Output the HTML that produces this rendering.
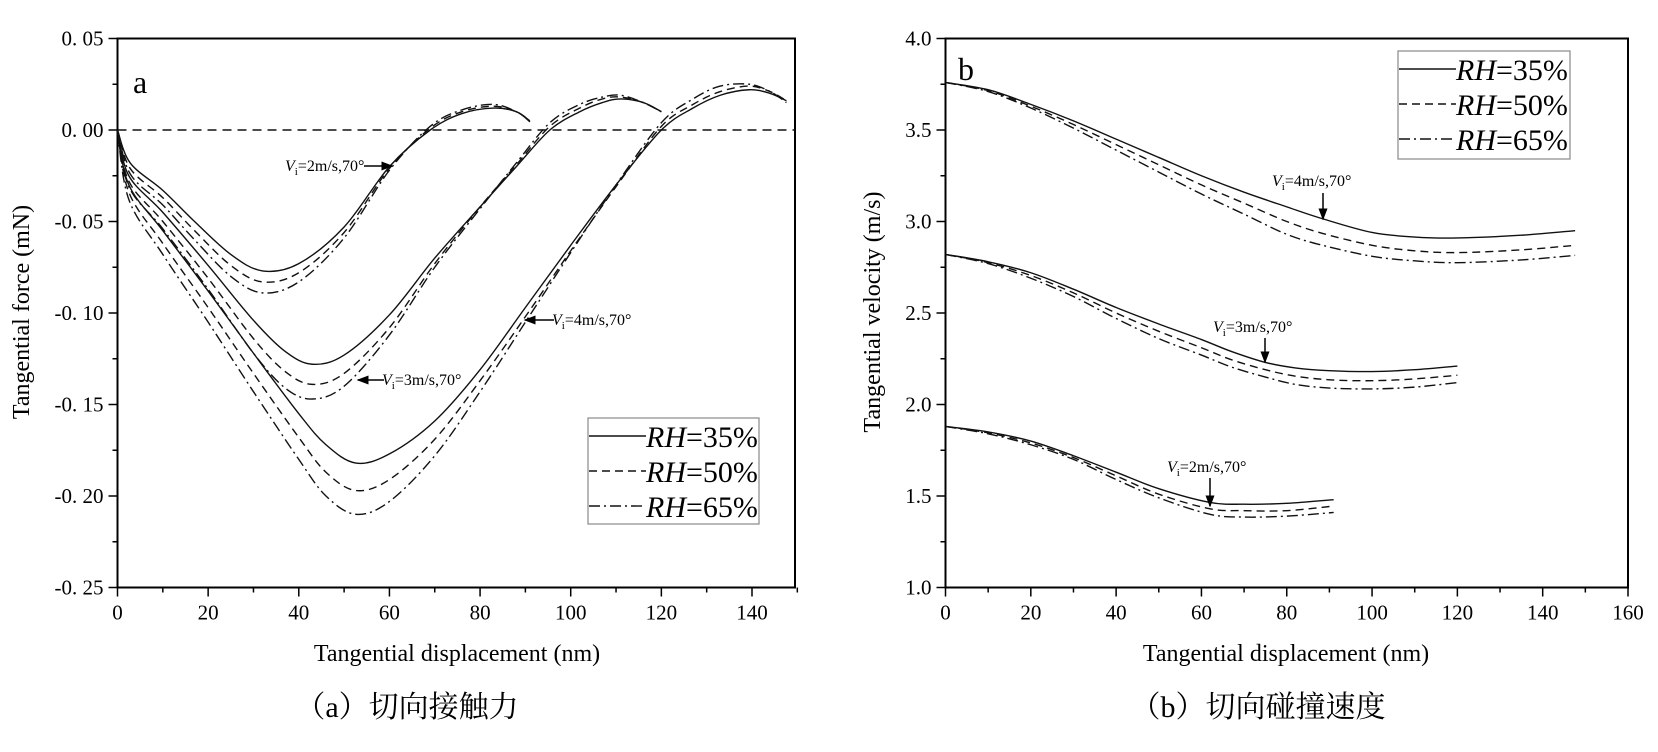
<!DOCTYPE html>
<html><head><meta charset="utf-8">
<style>
html,body{margin:0;padding:0;background:#fff;width:1658px;height:752px;overflow:hidden;}
svg{display:block;font-family:"Liberation Serif","Noto Serif CJK SC",serif;}
</style></head>
<body>
<svg id="fig" width="1658" height="752" viewBox="0 0 1658 752" xmlns="http://www.w3.org/2000/svg">
<defs>
<marker id="ah" markerWidth="8" markerHeight="8" refX="7" refY="4" orient="auto"><path d="M0,1 L8,4 L0,7 z" fill="#000"/></marker>
</defs>
<g id="chartA"></g>
<g id="chartB"></g>
</svg>
<script>
// ---------- Chart A data ----------
const aV2x = [0,2.8,10,17,25,32,40,50,60,69,76,83,88,91];
const aV2rh35 = [0,-0.018,-0.033,-0.050,-0.068,-0.077,-0.073,-0.053,-0.020,0,0.009,0.012,0.010,0.0045];
const aV2rh50 = [0,-0.021,-0.037,-0.055,-0.074,-0.083,-0.078,-0.056,-0.021,0.001,0.010,0.013,0.010,0.005];
const aV2rh65 = [0,-0.024,-0.041,-0.060,-0.080,-0.089,-0.083,-0.059,-0.022,0.002,0.011,0.014,0.010,0.005];
const aV3x = [0,2.5,10,20,30,37,43,50,60,70,80,88,95.4,102,107,111,116,120];
const aV3rh35 = [0,-0.025,-0.045,-0.074,-0.104,-0.121,-0.128,-0.123,-0.101,-0.070,-0.042,-0.020,0,0.010,0.015,0.017,0.015,0.010];
const aV3rh50 = [0,-0.028,-0.050,-0.081,-0.114,-0.132,-0.139,-0.133,-0.108,-0.073,-0.042,-0.019,0.002,0.012,0.017,0.018,0.015,0.010];
const aV3rh65 = [0,-0.031,-0.054,-0.087,-0.122,-0.141,-0.147,-0.140,-0.112,-0.075,-0.043,-0.018,0.004,0.014,0.018,0.019,0.015,0.010];
const aV4x = [0,2.5,10,20,30,40,46,52.6,60,70,80,90,100,110,120,127,133,139.4,144,147.6];
const aV4rh35 = [0,-0.030,-0.055,-0.088,-0.122,-0.155,-0.172,-0.182,-0.177,-0.159,-0.131,-0.097,-0.063,-0.030,0,0.012,0.019,0.022,0.020,0.016];
const aV4rh50 = [0,-0.034,-0.062,-0.097,-0.133,-0.168,-0.187,-0.197,-0.191,-0.169,-0.137,-0.102,-0.066,-0.031,0.002,0.014,0.021,0.024,0.021,0.016];
const aV4rh65 = [0,-0.038,-0.068,-0.105,-0.143,-0.180,-0.200,-0.210,-0.203,-0.178,-0.143,-0.105,-0.067,-0.030,0.004,0.017,0.024,0.025,0.021,0.015];
const aXTicks = [0,20,40,60,80,100,120,140];
const aYTicks = [0.05,0,-0.05,-0.10,-0.15,-0.20,-0.25];
const aYLabels = ["0. 05","0. 00","-0. 05","-0. 10","-0. 15","-0. 20","-0. 25"];
// ---------- Chart B data ----------
const bV4x = [0,10,20,30,40,50,60,70,80,88.4,100,110,120,135,147.6];
const bV4rh35 = [3.76,3.72,3.64,3.55,3.45,3.35,3.25,3.16,3.08,3.015,2.94,2.915,2.91,2.925,2.95];
const bV4rh50 = [3.76,3.715,3.63,3.53,3.42,3.31,3.20,3.10,3.00,2.935,2.87,2.84,2.83,2.845,2.87];
const bV4rh65 = [3.76,3.71,3.62,3.51,3.39,3.27,3.15,3.04,2.93,2.87,2.81,2.785,2.775,2.79,2.815];
const bV3x = [0,10,20,30,40,50,60,67,75,82,90,100,110,120];
const bV3rh35 = [2.82,2.78,2.72,2.63,2.53,2.44,2.355,2.29,2.23,2.20,2.185,2.18,2.19,2.21];
const bV3rh50 = [2.82,2.775,2.705,2.61,2.50,2.40,2.31,2.245,2.19,2.155,2.135,2.13,2.14,2.16];
const bV3rh65 = [2.82,2.77,2.69,2.59,2.47,2.36,2.27,2.205,2.15,2.11,2.09,2.085,2.095,2.12];
const bV2x = [0,10,20,30,40,50,62,70,80,91];
const bV2rh35 = [1.88,1.85,1.80,1.72,1.63,1.54,1.465,1.455,1.46,1.48];
const bV2rh50 = [1.88,1.845,1.79,1.71,1.61,1.51,1.43,1.42,1.42,1.445];
const bV2rh65 = [1.88,1.84,1.78,1.70,1.59,1.49,1.40,1.385,1.39,1.41];
const bXTicks = [0,20,40,60,80,100,120,140,160];
const bYTicks = [4.0,3.5,3.0,2.5,2.0,1.5,1.0];
const bYLabels = ["4.0","3.5","3.0","2.5","2.0","1.5","1.0"];

const NS = "http://www.w3.org/2000/svg";
function mk(parent, tag, attrs, text){
  const e = document.createElementNS(NS, tag);
  for (const k in attrs) e.setAttribute(k, attrs[k]);
  if (text !== undefined) e.textContent = text;
  parent.appendChild(e);
  return e;
}
function smooth(pts){
  let d = "M" + pts[0][0].toFixed(2) + "," + pts[0][1].toFixed(2);
  for (let i = 0; i < pts.length - 1; i++){
    const p0 = pts[Math.max(0,i-1)], p1 = pts[i], p2 = pts[i+1], p3 = pts[Math.min(pts.length-1,i+2)];
    const c1x = p1[0] + (p2[0]-p0[0])/6, c1y = p1[1] + (p2[1]-p0[1])/6;
    const c2x = p2[0] - (p3[0]-p1[0])/6, c2y = p2[1] - (p3[1]-p1[1])/6;
    d += " C" + c1x.toFixed(2) + "," + c1y.toFixed(2) + " " + c2x.toFixed(2) + "," + c2y.toFixed(2) + " " + p2[0].toFixed(2) + "," + p2[1].toFixed(2);
  }
  return d;
}
const DASH = {rh35: "", rh50: "8,5", rh65: "11,4,2,4"};

function buildAxes(g, L, T, R, B, xScale, yScale, xTicks, xMinorStep, xMax, yTicks, yLabels, yMinor, tag){
  const frame = mk(g, "rect", {x:L, y:T, width:R-L, height:B-T, fill:"none", stroke:"#000", "stroke-width":2});
  
  
  for (let v = 0; v <= xMax + 0.001; v += xMinorStep){
    const x = xScale(v);
    const major = xTicks.indexOf(v) >= 0;
    const t = mk(g, "line", {x1:x, y1:B, x2:x, y2:B + (major ? 9 : 5), stroke:"#000", "stroke-width":1.5});
    
    
  }
  xTicks.forEach(v => {
    const t = mk(g, "text", {x:xScale(v), y:B+32, "text-anchor":"middle", "font-size":21}, String(v));
    
    
  });
  yMinor.forEach(v => {
    const y = yScale(v);
    if (y < T || y > B) return;
    const t = mk(g, "line", {x1:L-5, y1:y, x2:L, y2:y, stroke:"#000", "stroke-width":1.5});
    
    
  });
  yTicks.forEach((v,i) => {
    const y = yScale(v);
    const t = mk(g, "line", {x1:L-9, y1:y, x2:L, y2:y, stroke:"#000", "stroke-width":1.5});
    
    
    const l = mk(g, "text", {x:L-14, y:y+7, "text-anchor":"end", "font-size":21}, yLabels[i]);
    
    
  });
}
function drawSeries(g, xs, ys, xScale, yScale, style, name){
  const pts = xs.map((x,i) => [xScale(x), yScale(ys[i])]);
  const p = mk(g, "path", {d:smooth(pts), fill:"none", stroke:"#111", "stroke-width":1.4});
  if (DASH[style]) p.setAttribute("stroke-dasharray", DASH[style]);
  
  
}
function legend(g, x, y, w, h, tag){
  const box = mk(g, "rect", {x:x, y:y, width:w, height:h, fill:"#fff", stroke:"#888", "stroke-width":1.2});
  
  
  const items = [["rh35","35%"],["rh50","50%"],["rh65","65%"]];
  items.forEach((it,i) => {
    const cy = y + 18 + i*35;
    const ln = mk(g, "line", {x1:x+1, y1:cy, x2:x+58, y2:cy, stroke:"#111", "stroke-width":1.4});
    if (DASH[it[0]]) ln.setAttribute("stroke-dasharray", DASH[it[0]]);
    
    
    const t = mk(g, "text", {x:x+58, y:cy+11, "font-size":30});
    
    
    mk(t, "tspan", {"font-style":"italic"}, "RH");
    mk(t, "tspan", {}, "=" + it[1]);
  });
}
function annot(g, x, y, label, name){
  const t = mk(g, "text", {x:x, y:y, "font-size":16});
  
  
  mk(t, "tspan", {"font-style":"italic"}, "V");
  mk(t, "tspan", {"font-size":11, dy:4}, "i");
  mk(t, "tspan", {dy:-4}, label);
}
function arrow(g, x1, y1, x2, y2, name){
  const a = mk(g, "line", {x1:x1, y1:y1, x2:x2, y2:y2, stroke:"#000", "stroke-width":1.5, "marker-end":"url(#ah)"});
  
  
}

// ---------- Chart A ----------
(function(){
  const g = document.getElementById("chartA");
  const L = 117.5, T = 38.5, R = 795, B = 587.5;
  const xA = v => L + v * (752 - L) / 140;
  const yA = v => T + (0.05 - v) * (B - T) / 0.30;
  const minor = [];
  for (let k = 0; k < 6; k++) minor.push(0.025 - k*0.05);
  buildAxes(g, L, T, R, B, xA, yA, aXTicks, 10, 150, aYTicks, aYLabels, minor, "a");
  const z = mk(g, "line", {x1:L, y1:yA(0), x2:R, y2:yA(0), stroke:"#111", "stroke-width":1.4, "stroke-dasharray":"9,6"});
  
  
  drawSeries(g, aV2x, aV2rh35, xA, yA, "rh35", "a-v2-rh35-line");
  drawSeries(g, aV2x, aV2rh50, xA, yA, "rh50", "a-v2-rh50-line");
  drawSeries(g, aV2x, aV2rh65, xA, yA, "rh65", "a-v2-rh65-line");
  drawSeries(g, aV3x, aV3rh35, xA, yA, "rh35", "a-v3-rh35-line");
  drawSeries(g, aV3x, aV3rh50, xA, yA, "rh50", "a-v3-rh50-line");
  drawSeries(g, aV3x, aV3rh65, xA, yA, "rh65", "a-v3-rh65-line");
  drawSeries(g, aV4x, aV4rh35, xA, yA, "rh35", "a-v4-rh35-line");
  drawSeries(g, aV4x, aV4rh50, xA, yA, "rh50", "a-v4-rh50-line");
  drawSeries(g, aV4x, aV4rh65, xA, yA, "rh65", "a-v4-rh65-line");
  annot(g, 285, 171, "=2m/s,70°", "a-v2-annotation");
  arrow(g, 364, 166, 392, 166, "a-v2-arrow");
  annot(g, 382, 385, "=3m/s,70°", "a-v3-annotation");
  arrow(g, 384, 380, 358, 380, "a-v3-arrow");
  annot(g, 552, 325, "=4m/s,70°", "a-v4-annotation");
  arrow(g, 554, 320, 525, 320, "a-v4-arrow");
  legend(g, 588, 418, 171, 106, "a");
  const lab = mk(g, "text", {x:133, y:93, "font-size":32}, "a");
  
  
  const yt = mk(g, "text", {x:0, y:0, "font-size":24, "text-anchor":"middle", transform:"translate(29,312) rotate(-90)"}, "Tangential force (mN)");
  
  
  const xt = mk(g, "text", {x:457, y:661, "font-size":24, "text-anchor":"middle"}, "Tangential displacement (nm)");
  
  
  const cap = mk(g, "text", {x:407, y:717, "font-size":30, "text-anchor":"middle"}, "（a）切向接触力");
  
  
})();

// ---------- Chart B ----------
(function(){
  const g = document.getElementById("chartB");
  const L = 945.5, T = 38.5, R = 1628, B = 587.5;
  const xB = v => L + v * (R - L) / 160;
  const yB = v => T + (4.0 - v) * (B - T) / 3.0;
  const minor = [];
  for (let k = 0; k < 6; k++) minor.push(3.75 - k*0.5);
  buildAxes(g, L, T, R, B, xB, yB, bXTicks, 10, 160, bYTicks, bYLabels, minor, "b");
  drawSeries(g, bV4x, bV4rh35, xB, yB, "rh35", "b-v4-rh35-line");
  drawSeries(g, bV4x, bV4rh50, xB, yB, "rh50", "b-v4-rh50-line");
  drawSeries(g, bV4x, bV4rh65, xB, yB, "rh65", "b-v4-rh65-line");
  drawSeries(g, bV3x, bV3rh35, xB, yB, "rh35", "b-v3-rh35-line");
  drawSeries(g, bV3x, bV3rh50, xB, yB, "rh50", "b-v3-rh50-line");
  drawSeries(g, bV3x, bV3rh65, xB, yB, "rh65", "b-v3-rh65-line");
  drawSeries(g, bV2x, bV2rh35, xB, yB, "rh35", "b-v2-rh35-line");
  drawSeries(g, bV2x, bV2rh50, xB, yB, "rh50", "b-v2-rh50-line");
  drawSeries(g, bV2x, bV2rh65, xB, yB, "rh65", "b-v2-rh65-line");
  annot(g, 1272, 186, "=4m/s,70°", "b-v4-annotation");
  arrow(g, 1323, 193, 1323, 219, "b-v4-arrow");
  annot(g, 1213, 332, "=3m/s,70°", "b-v3-annotation");
  arrow(g, 1265, 338, 1265, 362, "b-v3-arrow");
  annot(g, 1167, 472, "=2m/s,70°", "b-v2-annotation");
  arrow(g, 1210, 478, 1210, 506, "b-v2-arrow");
  legend(g, 1398, 51, 172, 108, "b");
  const lab = mk(g, "text", {x:958, y:80, "font-size":32}, "b");
  
  
  const yt = mk(g, "text", {x:0, y:0, "font-size":24, "text-anchor":"middle", transform:"translate(880,312) rotate(-90)"}, "Tangential velocity (m/s)");
  
  
  const xt = mk(g, "text", {x:1286, y:661, "font-size":24, "text-anchor":"middle"}, "Tangential displacement (nm)");
  
  
  const cap = mk(g, "text", {x:1258, y:717, "font-size":30, "text-anchor":"middle"}, "（b）切向碰撞速度");
  
  
})();
</script>
</body></html>
